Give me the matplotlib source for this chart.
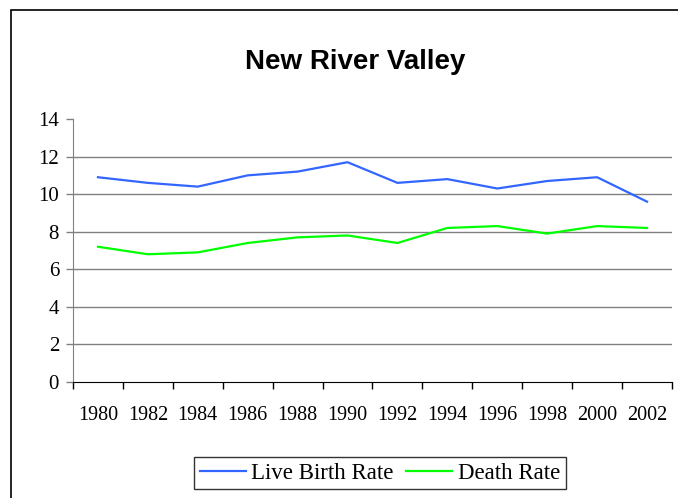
import numpy as np
import matplotlib
matplotlib.use('Agg')
import matplotlib.pyplot as plt
from matplotlib.patches import Rectangle

# data
years = ['1980', '1982', '1984', '1986', '1988', '1990',
         '1992', '1994', '1996', '1998', '2000', '2002']
birth_rate = [10.9, 10.6, 10.4, 11.0, 11.2, 11.7, 10.6, 10.8, 10.3, 10.7, 10.9, 9.6]
death_rate = [7.2, 6.8, 6.9, 7.4, 7.7, 7.8, 7.4, 8.2, 8.3, 7.9, 8.3, 8.2]

x = np.arange(len(years))

fig = plt.figure(figsize=(6.78, 4.98), dpi=100)
ax = fig.add_axes([73/678, 1-382/498, (672-73)/678, (382-119)/498])

# outer chart border (cut off on right and bottom like the original)
fig.patches.append(Rectangle((11/678, -0.1), 1.2, 1 - 10/498 + 0.1,
                             transform=fig.transFigure, fill=False,
                             edgecolor='black', linewidth=1.2))

ax.plot(x, birth_rate, color='#3366FF', linewidth=1.6, label='Live Birth Rate')
ax.plot(x, death_rate, color='#00FF00', linewidth=1.6, label='Death Rate')

ax.set_xlim(-0.5, len(years) - 0.5)
ax.set_ylim(0, 14)

# gridlines
for v in range(2, 14, 2):
    ax.axhline(v, color='#808080', linewidth=1, zorder=0)

ax.set_yticks(range(0, 15, 2))
ax.set_yticklabels([str(v) for v in range(0, 15, 2)],
                   fontfamily='Liberation Serif', fontsize=15)

# category axis: ticks between categories, labels centered
ax.set_xticks(np.arange(-0.5, len(years), 1.0))
ax.set_xticklabels([])
ax.set_xticks(x, minor=True)
ax.set_xticklabels(years, minor=True, fontfamily='Liberation Serif', fontsize=14.5)
ax.tick_params(axis='x', which='minor', length=0, pad=17)
ax.tick_params(axis='x', which='major', length=5, width=1, color='black')
ax.tick_params(axis='y', length=5, width=1, color='#808080', pad=5)

for s in ['top', 'right']:
    ax.spines[s].set_visible(False)
ax.spines['left'].set_color('#808080')
ax.spines['bottom'].set_color('black')

fig.text(355/678, 1-62/498, 'New River Valley', ha='center', va='center',
         fontfamily='Liberation Sans', fontweight='bold', fontsize=20)

leg = fig.legend(loc='center', bbox_to_anchor=(380/678, 1-473/498), ncol=2,
                 frameon=True, fancybox=False, edgecolor='black',
                 prop={'family': 'Liberation Serif', 'size': 16.5},
                 handlelength=2.0, columnspacing=0.55, handletextpad=0.25,
                 borderpad=0.25, borderaxespad=0)
leg.get_frame().set_linewidth(1)

fig.savefig('out.png', dpi=100)
